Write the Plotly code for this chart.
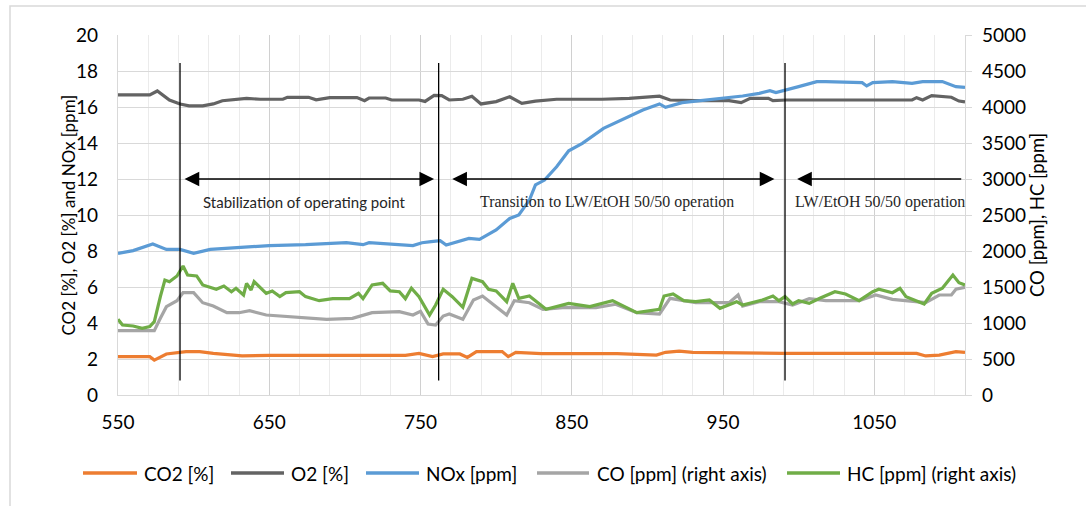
import plotly.graph_objects as go

# ---------------- data ----------------
co2_x = [550, 571, 574, 582, 595, 604, 613, 632, 650, 700, 740, 749, 758, 765, 776, 781, 787, 804, 808, 813, 830, 880, 906, 912, 921, 930, 990, 1050, 1078, 1084, 1093, 1104, 1110]
co2_y = [2.13, 2.13, 1.94, 2.28, 2.41, 2.41, 2.31, 2.17, 2.2, 2.2, 2.2, 2.31, 2.13, 2.28, 2.28, 2.09, 2.41, 2.41, 2.13, 2.37, 2.3, 2.3, 2.22, 2.37, 2.44, 2.37, 2.31, 2.31, 2.31, 2.17, 2.22, 2.41, 2.37]

o2_x = [550, 571, 576, 584, 591, 597, 606, 613, 619, 635, 644, 659, 662, 676, 681, 690, 708, 713, 716, 727, 731, 749, 753, 759, 764, 769, 778, 784, 790, 800, 809, 817, 826, 840, 870, 888, 908, 915, 932, 954, 962, 968, 980, 983, 992, 1075, 1078, 1082, 1088, 1097, 1101, 1106, 1110]
o2_y = [16.67, 16.67, 16.89, 16.39, 16.17, 16.06, 16.06, 16.17, 16.35, 16.48, 16.43, 16.43, 16.54, 16.54, 16.4, 16.52, 16.52, 16.35, 16.5, 16.5, 16.39, 16.39, 16.31, 16.65, 16.63, 16.39, 16.43, 16.6, 16.17, 16.3, 16.57, 16.2, 16.33, 16.43, 16.43, 16.48, 16.6, 16.39, 16.35, 16.35, 16.24, 16.48, 16.48, 16.35, 16.39, 16.39, 16.52, 16.39, 16.63, 16.54, 16.54, 16.33, 16.28]

nox_x = [550, 560, 573, 582, 591, 600, 611, 626, 650, 674, 701, 712, 716, 745, 751, 757, 763, 767, 782, 789, 800, 809, 815, 822, 826, 832, 840, 848, 857, 871, 884, 897, 908, 912, 923, 943, 963, 974, 981, 985, 992, 1000, 1012, 1018, 1042, 1045, 1049, 1062, 1075, 1082, 1095, 1104, 1110]
nox_y = [7.87, 8.02, 8.39, 8.09, 8.09, 7.87, 8.09, 8.17, 8.3, 8.35, 8.46, 8.35, 8.46, 8.3, 8.46, 8.52, 8.57, 8.33, 8.7, 8.65, 9.17, 9.81, 10.0, 10.83, 11.67, 11.94, 12.68, 13.57, 13.98, 14.81, 15.31, 15.83, 16.17, 15.98, 16.24, 16.43, 16.61, 16.76, 16.91, 16.8, 16.94, 17.13, 17.41, 17.41, 17.35, 17.17, 17.35, 17.41, 17.31, 17.41, 17.41, 17.13, 17.09]

co_x = [550, 571, 574, 578, 582, 589, 593, 600, 606, 613, 622, 630, 637, 648, 670, 688, 705, 718, 736, 745, 750, 755, 760, 765, 769, 778, 785, 791, 800, 807, 812, 822, 831, 844, 866, 879, 893, 908, 915, 932, 954, 960, 963, 974, 987, 996, 1007, 1018, 1040, 1051, 1062, 1084, 1093, 1101, 1104, 1110]
co_y = [893, 893, 893, 1065, 1227, 1310, 1421, 1421, 1282, 1236, 1143, 1143, 1171, 1111, 1079, 1051, 1065, 1143, 1157, 1111, 1162, 986, 972, 1097, 1125, 1051, 1319, 1375, 1227, 1111, 1310, 1282, 1190, 1213, 1213, 1260, 1143, 1125, 1343, 1282, 1282, 1389, 1236, 1296, 1296, 1250, 1338, 1310, 1310, 1389, 1329, 1282, 1389, 1389, 1468, 1495]

hc_x = [550, 553, 560, 566, 571, 574, 578, 581, 584, 589, 593, 596, 602, 606, 615, 620, 625, 628, 633, 635, 638, 640, 648, 652, 657, 661, 670, 674, 683, 692, 703, 709, 712, 718, 725, 730, 736, 740, 744, 749, 756, 760, 765, 771, 778, 784, 791, 795, 800, 807, 811, 815, 822, 833, 848, 862, 877, 893, 908, 911, 917, 924, 932, 941, 948, 959, 963, 976, 983, 987, 991, 996, 1000, 1007, 1014, 1024, 1031, 1040, 1049, 1053, 1062, 1067, 1071, 1077, 1083, 1088, 1095, 1102, 1106, 1110]
hc_y = [1051, 972, 958, 926, 949, 1018, 1366, 1597, 1574, 1653, 1792, 1667, 1653, 1528, 1468, 1514, 1435, 1482, 1389, 1551, 1458, 1574, 1412, 1445, 1366, 1421, 1435, 1366, 1310, 1338, 1338, 1412, 1338, 1528, 1551, 1445, 1435, 1338, 1482, 1366, 1111, 1250, 1468, 1366, 1218, 1620, 1574, 1468, 1445, 1296, 1551, 1343, 1375, 1190, 1273, 1227, 1310, 1143, 1190, 1375, 1403, 1310, 1296, 1320, 1204, 1296, 1250, 1320, 1375, 1310, 1366, 1264, 1310, 1273, 1343, 1435, 1403, 1310, 1435, 1468, 1421, 1482, 1366, 1320, 1264, 1412, 1482, 1667, 1560, 1528]

series_names = ["CO2 [%]", "O2 [%]", "NOx [ppm]", "CO [ppm] (right axis)", "HC [ppm] (right axis)"]
series_colors = ["#ED7D31", "#636363", "#5B9BD5", "#A5A5A5", "#70AD47"]

phase_bounds = [591, 762, 991]
phase_labels = ["Stabilization of operating point", "Transition to LW/EtOH 50/50 operation", "LW/EtOH 50/50 operation"]

# ---------------- geometry helpers (pixels -> paper) ----------------
PL, PR, PT, PB = 118, 965, 35, 395
W, H = 1086, 506
def px(xp):
    return (xp - PL) / (PR - PL)
def py(yp):
    return (PB - yp) / (PB - PT)

FONT = "Lato, 'Open Sans', sans-serif"
SERIF = "'Liberation Serif', 'Times New Roman', serif"

fig = go.Figure()
data = [(co2_x, co2_y, "y"), (o2_x, o2_y, "y"), (nox_x, nox_y, "y"), (co_x, co_y, "y2"), (hc_x, hc_y, "y2")]
for (xs, ys, ax), name, col in zip(data, series_names, series_colors):
    fig.add_trace(go.Scatter(x=xs, y=ys, name=name, yaxis=ax, mode="lines",
                             line=dict(color=col, width=3.2), showlegend=False))

# phase separator lines
for xb in phase_bounds:
    fig.add_shape(type="line", xref="x", yref="y", x0=xb, x1=xb, y0=0.8, y1=18.45,
                  line=dict(color="black", width=1.3))

# arrows
arrow_y = 12
arrows = [(593, 759, "end+start"), (770, 984, "end+start"), (999, 1108.5, "end")]
for x0, x1, side in arrows:
    fig.add_annotation(x=x0 if side == "end" else x1, y=arrow_y,
                       ax=x1 if side == "end" else x0, ay=arrow_y,
                       xref="x", yref="y", axref="x", ayref="y",
                       text="", showarrow=True, arrowhead=2, startarrowhead=2,
                       arrowsize=2.1, startarrowsize=2.1, arrowwidth=1.4,
                       arrowside=side, arrowcolor="black")

label_pos = [(673, FONT, 15), (873.6, SERIF, 15.9), (1054, SERIF, 16)]
for (xc, fam, fs), txt in zip(label_pos, phase_labels):
    fig.add_annotation(x=xc, y=10.7, xref="x", yref="y", text=txt, showarrow=False,
                       font=dict(family=fam, size=fs, color="#262626"))

# axis titles
fig.add_annotation(x=px(55), y=0.5, xref="paper", yref="paper", text="CO2 [%], O2 [%] and NOx [ppm]",
                   textangle=-90, showarrow=False, font=dict(family=FONT, size=17, color="#000000"))
fig.add_annotation(x=px(1050), y=0.5, xref="paper", yref="paper", text="CO [ppm], HC [ppm]",
                   textangle=-90, showarrow=False, font=dict(family=FONT, size=18.5, color="#000000"))

# legend drawn manually (long line samples as in the reference)
leg_y = py(473)
leg_lines = [(83, 137), (231, 284), (366, 419), (537, 589), (787, 840)]
leg_text_x = [142, 289, 424, 595, 845]
for (a, b), tx, name, col in zip(leg_lines, leg_text_x, series_names, series_colors):
    fig.add_shape(type="line", xref="paper", yref="paper", x0=px(a), x1=px(b), y0=leg_y, y1=leg_y,
                  line=dict(color=col, width=3.5))
    fig.add_annotation(x=px(tx), y=leg_y, xref="paper", yref="paper", text=name, showarrow=False,
                       xanchor="left", yanchor="middle", font=dict(family=FONT, size=19, color="#000000"))

# outer frame
fig.add_shape(type="rect", xref="paper", yref="paper",
              x0=px(10), x1=px(1095), y0=py(515), y1=py(6),
              line=dict(color="#D9D9D9", width=1.5), layer="below")

grid = "#D9D9D9"
fig.update_layout(
    width=W, height=H,
    margin=dict(l=PL, r=W - PR, t=PT, b=H - PB),
    paper_bgcolor="white", plot_bgcolor="white",
    font=dict(family=FONT, size=19, color="#000000"),
    showlegend=False,
    xaxis=dict(range=[550, 1110], tick0=550, dtick=100, showgrid=True, gridcolor="#D0D0D0", gridwidth=1.3,
               minor=dict(dtick=20, tick0=550, showgrid=True, gridcolor="#EBEBEB", gridwidth=1),
               showline=True, linecolor=grid, linewidth=1.3, ticks="", zeroline=False,
               ticklabelstandoff=10),
    yaxis=dict(range=[0, 20], dtick=2, showgrid=True, gridcolor=grid, gridwidth=1,
               showline=True, linecolor=grid, linewidth=1.3, ticks="", zeroline=False,
               ticklabelstandoff=15),
    yaxis2=dict(range=[0, 5000], dtick=500, overlaying="y", side="right", showgrid=False,
                showline=True, linecolor=grid, linewidth=1.3, ticks="outside", ticklen=6,
                tickcolor=grid, zeroline=False, ticklabelstandoff=6),
)

fig.write_html("out.html", config={"displayModeBar": False},
               post_script="document.body.style.margin='0';document.body.style.padding='0';")
